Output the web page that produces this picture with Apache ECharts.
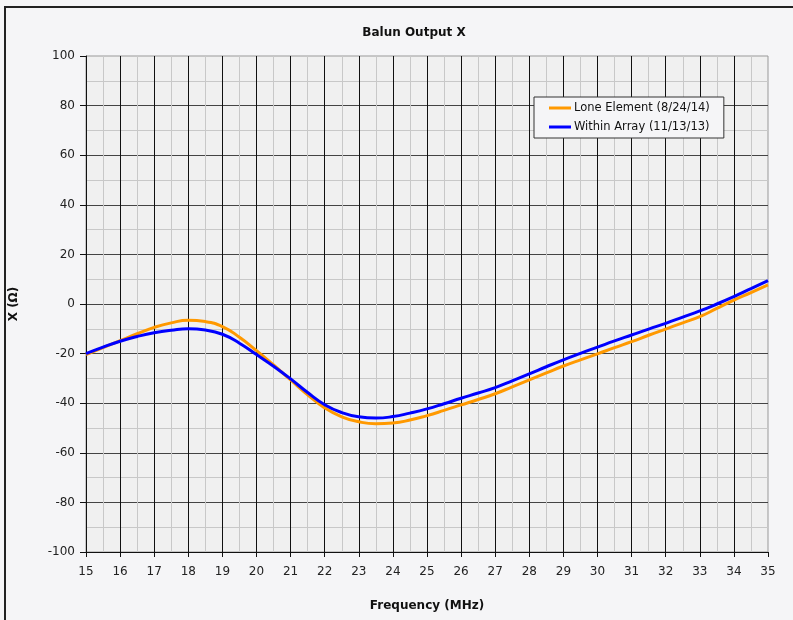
<!DOCTYPE html>
<html>
<head>
<meta charset="utf-8">
<script src="https://cdn.jsdelivr.net/npm/echarts@6/dist/echarts.min.js"></script>
<style>
html,body{margin:0;padding:0;background:#f5f5f7;}
#chart{width:793px;height:620px;}
</style>
</head>
<body>
<div id="chart"></div>
<script>
const freq = [15,15.5,16,16.5,17,17.5,18,18.5,19,19.5,20,20.5,21,21.5,22,22.5,23,23.5,24,24.5,25,25.5,26,26.5,27,27.5,28,28.5,29,29.5,30,30.5,31,31.5,32,32.5,33,33.5,34,34.5,35];
const loneElement = [-20.4,-17.6,-14.8,-12,-9.4,-7.6,-6.6,-7.1,-9.1,-13.4,-18.8,-24.6,-30.6,-36.6,-41.9,-45.5,-47.5,-48.3,-48,-46.8,-45,-42.9,-40.7,-38.5,-36.2,-33.4,-30.6,-27.8,-25,-22.5,-20.1,-17.6,-15.2,-12.6,-10.1,-7.6,-5.1,-1.8,1.6,4.6,7.7];
const withinArray = [-20,-17.4,-15,-13.1,-11.6,-10.6,-10,-10.5,-12.2,-15.8,-20.4,-25.1,-30.2,-35.7,-40.6,-43.8,-45.5,-46,-45.4,-44,-42.3,-40.2,-38,-35.9,-33.7,-31,-28.2,-25.3,-22.5,-19.9,-17.4,-14.9,-12.5,-10.1,-7.8,-5.3,-2.8,0,3,6.2,9.4];
const seriesNames = ['Lone Element (8/24/14)', 'Within Array (11/13/13)'];

const font = 'DejaVu Sans, Verdana, sans-serif';
const chart = echarts.init(document.getElementById('chart'), null, {renderer: 'canvas'});
chart.setOption({
  backgroundColor: '#f5f5f7',
  animation: false,
  title: {
    text: 'Balun Output X',
    left: 409, top: 22, textAlign: 'center',
    textStyle: {fontFamily: font, fontSize: 12, fontWeight: 'bold', color: '#111'}
  },
  graphic: [{
    type: 'rect', silent: true, z: -1,
    shape: {x: 5, y: 7, width: 900, height: 700},
    style: {fill: 'none', stroke: '#222', lineWidth: 2}
  }],
  legend: {
    orient: 'vertical', left: 534, top: 97,
    padding: [4, 14, 4, 15], itemGap: 5,
    itemWidth: 22, itemHeight: 3,
    backgroundColor: '#f5f5f7', borderColor: '#333', borderWidth: 1,
    icon: 'rect',
    textStyle: {fontFamily: font, fontSize: 11.5, color: '#111', padding: [0,0,0,-2], lineHeight: 14},
    data: seriesNames
  },
  grid: {
    left: 84, right: 25, top: 56, bottom: 68,
    show: true, backgroundColor: '#f0f0f0', borderColor: '#999', borderWidth: 1
  },
  xAxis: {
    type: 'value', min: 15, max: 35, interval: 1,
    name: 'Frequency (MHz)', nameLocation: 'middle', nameGap: 48,
    nameTextStyle: {fontFamily: font, fontSize: 12, fontWeight: 'bold', color: '#111'},
    axisLine: {show: true, onZero: false, lineStyle: {color: '#111', width: 1}},
    axisTick: {show: true, length: 5, lineStyle: {color: '#111'}},
    axisLabel: {fontFamily: font, fontSize: 12, color: '#222', margin: 14},
    splitLine: {show: true, showMaxLine: false, lineStyle: {color: '#111', width: 1}},
    minorTick: {show: false, splitNumber: 2},
    minorSplitLine: {show: true, lineStyle: {color: '#c8c8c8', width: 1}}
  },
  yAxis: {
    type: 'value', min: -100, max: 100, interval: 20,
    name: 'X (Ω)', nameLocation: 'middle', nameGap: 66,
    nameTextStyle: {fontFamily: font, fontSize: 12, fontWeight: 'bold', color: '#111'},
    axisLine: {show: true, onZero: false, lineStyle: {color: '#111', width: 1}},
    axisTick: {show: true, length: 6, lineStyle: {color: '#111'}},
    axisLabel: {fontFamily: font, fontSize: 12, color: '#222', margin: 11},
    splitLine: {show: true, showMaxLine: false, lineStyle: {color: '#444', width: 1}},
    minorTick: {show: false, splitNumber: 2},
    minorSplitLine: {show: true, lineStyle: {color: '#c8c8c8', width: 1}}
  },
  series: [
    {
      name: seriesNames[0], type: 'line', smooth: 0.5, symbol: 'none',
      data: freq.map((f, i) => [f, loneElement[i]]),
      lineStyle: {color: '#ff9900', width: 3}, itemStyle: {color: '#ff9900'}, z: 3
    },
    {
      name: seriesNames[1], type: 'line', smooth: 0.5, symbol: 'none',
      data: freq.map((f, i) => [f, withinArray[i]]),
      lineStyle: {color: '#0000ff', width: 3}, itemStyle: {color: '#0000ff'}, z: 4
    }
  ]
});
</script>
</body>
</html>
